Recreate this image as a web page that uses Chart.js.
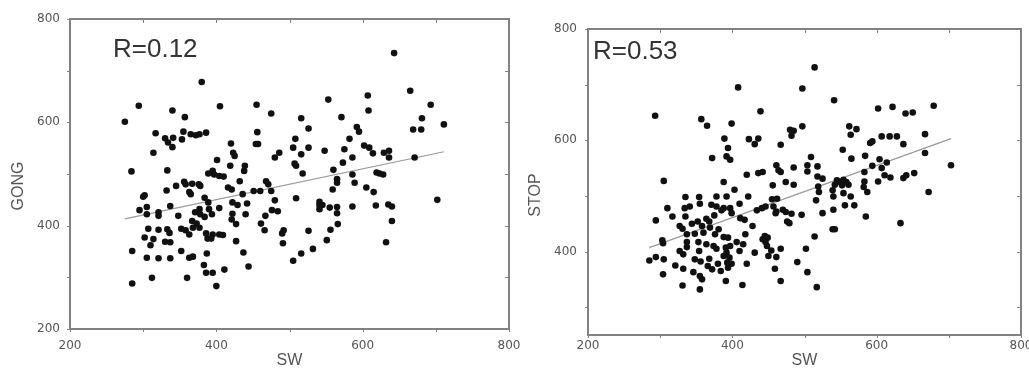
<!DOCTYPE html>
<html><head><meta charset="utf-8">
<script src="https://cdn.jsdelivr.net/npm/chart.js@4.4.1/dist/chart.umd.min.js"></script>
<style>
html,body{margin:0;padding:0;background:#fff;width:1029px;height:369px;overflow:hidden}
.wrap{position:absolute;top:0;height:369px}
canvas{display:block}
</style></head><body>
<div class="wrap" style="left:0;width:522px"><canvas id="c1" width="522" height="369"></canvas></div>
<div class="wrap" style="left:522px;width:507px"><canvas id="c2" width="507" height="369"></canvas></div>
<script>
// ---- data: left panel (SW vs GONG) ----
const gongSW = [643,380,665,607,553,693,294,405,455,340,608,475,357,516,571,681,275,711,526,592,669,680,595,317,355,365,372,377,386,456,330,341,353,508,582,334,420,454,457,340,505,526,602,575,548,609,423,486,516,614,629,636,314,636,671,586,480,425,401,507,573,419,439,509,438,560,333,284,389,395,397,404,410,518,586,619,623,628,432,468,565,565,589,356,345,358,367,376,378,416,421,471,605,332,363,365,451,460,475,559,615,300,302,384,436,480,509,702,422,429,389,541,541,545,337,305,442,565,586,618,635,640,541,555,377,390,404,295,321,371,476,484,565,305,321,348,378,384,394,422,440,467,367,421,640,427,461,373,566,307,321,333,352,358,368,377,466,492,526,556,336,363,386,395,404,409,490,302,314,388,393,330,337,427,632,491,551,310,285,352,437,387,532,516,305,321,337,363,368,444,383,505,411,386,395,312,360,285,400];
const gongVal = [734,678,661,652,644,634,632,631,634,623,623,617,610,608,610,608,601,596,588,591,586,586,582,579,582,577,575,577,580,581,569,570,567,568,568,561,559,558,558,552,551,551,555,548,545,551,541,541,538,540,541,545,541,532,532,532,532,535,527,520,522,516,516,516,506,508,507,505,501,506,499,496,495,501,499,503,501,499,486,486,490,483,483,485,477,480,481,480,477,474,470,480,474,468,465,461,467,467,467,470,465,456,459,454,461,449,453,450,445,440,445,446,440,440,438,436,443,436,437,439,441,437,432,435,432,432,434,430,426,426,430,428,424,422,419,419,422,417,422,423,422,419,409,412,409,403,404,404,403,394,392,393,394,391,396,396,391,391,390,392,386,383,385,383,383,382,385,377,374,375,375,369,368,370,368,366,372,362,351,351,348,346,355,346,338,337,337,338,340,321,324,332,315,309,309,299,299,288,283];
const gongFitSW = [275, 711];
const gongFitVal = [413, 543];

// ---- data: right panel (SW vs STOP) ----
const stopSW = [514,408,497,541,679,602,622,640,650,293,439,357,365,399,497,562,572,564,480,485,482,667,389,423,436,431,607,618,628,591,594,637,467,394,553,372,392,397,565,584,604,667,703,509,614,461,485,504,518,594,607,464,467,436,442,504,420,583,652,641,611,619,637,602,305,388,474,485,518,525,545,549,554,558,583,456,519,542,552,561,582,403,539,672,587,520,554,335,354,378,392,422,455,462,516,540,564,341,334,355,371,378,388,397,410,441,556,569,310,385,446,457,540,434,461,470,474,482,585,525,294,317,335,364,368,352,375,399,411,417,460,476,479,496,633,327,331,344,358,369,381,428,539,542,337,348,360,376,388,394,418,445,449,514,303,304,337,353,364,374,406,415,442,446,337,378,391,397,448,454,467,502,327,354,410,431,332,392,388,396,450,461,294,285,305,348,356,368,380,393,399,420,490,321,332,366,372,394,384,459,346,304,355,358,504,391,467,331,414,355,517];
const stopVal = [731,695,693,672,662,657,660,648,650,644,652,638,626,630,625,625,620,610,619,617,608,611,603,602,603,593,607,607,607,595,598,593,592,586,583,568,571,565,567,572,566,577,555,570,560,555,551,555,553,554,550,546,543,541,543,544,538,543,541,537,537,533,532,526,527,525,525,520,535,531,528,525,529,525,526,519,517,520,519,520,516,511,510,507,507,507,505,498,498,499,499,499,494,495,492,499,499,481,478,486,484,481,478,478,486,478,483,483,478,474,481,481,475,474,472,475,471,468,463,469,456,463,463,459,454,454,465,469,460,457,469,454,451,466,451,446,441,450,446,443,440,446,440,440,431,432,434,431,426,425,431,428,425,427,420,415,417,417,413,410,417,413,422,417,408,405,407,410,410,402,405,405,401,401,401,398,395,398,392,389,392,390,390,384,386,386,382,387,378,380,378,378,381,375,369,374,368,371,365,369,363,359,356,350,363,347,347,339,340,332,336];
const stopFitSW = [285, 703];
const stopFitVal = [407, 603];

const tickValues = [200, 300, 400, 500, 600, 700, 800];
const labelTicks = [200, 400, 600, 800];

Chart.defaults.font.family = '"DejaVu Sans", sans-serif';

const framePlugin = {
  id: 'frame',
  afterDraw(chart, args, opts) {
    const {ctx, chartArea: a, scales: {x, y}} = chart;
    ctx.save();
    ctx.strokeStyle = '#828282';
    ctx.lineWidth = 2;
    ctx.strokeRect(a.left, a.top, a.right - a.left, a.bottom - a.top);
    ctx.lineWidth = 1;
    ctx.beginPath();
    x.ticks.forEach(t => {
      const px = Math.round(x.getPixelForValue(t.value)) + 0.5;
      ctx.moveTo(px, a.top); ctx.lineTo(px, a.top + 4);
      ctx.moveTo(px, a.bottom); ctx.lineTo(px, a.bottom + 3);
    });
    y.ticks.forEach(t => {
      const py = Math.round(y.getPixelForValue(t.value)) + 0.5;
      ctx.moveTo(a.right, py); ctx.lineTo(a.right - 4, py);
      ctx.moveTo(a.left, py); ctx.lineTo(a.left - 3, py);
    });
    ctx.stroke();
    // correlation label
    ctx.fillStyle = '#333';
    ctx.font = '26px "Liberation Sans", Arial, sans-serif';
    ctx.textBaseline = 'top';
    ctx.textAlign = 'left';
    ctx.fillText(opts.text, opts.tx, opts.ty);
    // y axis title (rotated)
    ctx.fillStyle = '#555';
    ctx.font = '16px "Liberation Sans", Arial, sans-serif';
    ctx.translate(opts.yTitleX, opts.yTitleY);
    ctx.rotate(-Math.PI / 2);
    ctx.textAlign = 'center';
    ctx.textBaseline = 'middle';
    ctx.fillText(opts.yTitle, 0, 0);
    ctx.restore();
  }
};

function makeChart(id, W, H, box, xs, ys, fx, fy, yMin, yTitle, rText, tx, ty, xPad, yPad, ytx, yty) {
  const pts = xs.map((v, i) => ({x: v, y: ys[i]}));
  const fit = fx.map((v, i) => ({x: v, y: fy[i]}));
  const yTicks = tickValues.filter(v => v >= yMin);
  return new Chart(document.getElementById(id), {
    type: 'scatter',
    data: {
      datasets: [
        {type: 'line', data: fit, borderColor: '#9a9a9a', borderWidth: 1.2, pointRadius: 0, fill: false, order: 1},
        {data: pts, backgroundColor: '#111', borderWidth: 0, pointRadius: 3.3, order: 0}
      ]
    },
    options: {
      responsive: false,
      animation: false,
      events: [],
      layout: {padding: {left: 0, top: box.top, right: W - box.right, bottom: 0}},
      plugins: {
        legend: {display: false},
        tooltip: {enabled: false},
        frame: {text: rText, tx: tx, ty: ty, yTitle: yTitle, yTitleX: ytx, yTitleY: yty}
      },
      scales: {
        x: {
          type: 'linear', min: 200, max: 800,
          afterBuildTicks: s => { s.ticks = tickValues.map(v => ({value: v})); },
          afterFit: s => { s.height = H - box.bottom; s.paddingLeft = 0; s.paddingRight = 0; },
          grid: {display: false, drawTicks: false, tickLength: 0},
          border: {display: false},
          ticks: {
            color: '#555', font: {size: 12}, padding: xPad, maxRotation: 0, autoSkip: false,
            callback: v => (labelTicks.includes(v) ? String(v) : '')
          },
          title: {display: true, text: 'SW', color: '#555', font: {family: '"Liberation Sans", Arial, sans-serif', size: 16, lineHeight: 1}, padding: {top: 0, bottom: 0}}
        },
        y: {
          type: 'linear', min: yMin, max: 800,
          afterBuildTicks: s => { s.ticks = yTicks.map(v => ({value: v})); },
          afterFit: s => { s.width = box.left; s.paddingTop = 0; s.paddingBottom = 0; },
          grid: {display: false, drawTicks: false, tickLength: 0},
          border: {display: false},
          ticks: {
            color: '#555', font: {size: 12}, padding: yPad, autoSkip: false,
            callback: v => (labelTicks.includes(v) ? String(v) : '')
          },
          title: {display: false}
        }
      }
    },
    plugins: [framePlugin]
  });
}

makeChart('c1', 522, 369, {left: 70, right: 509, top: 19, bottom: 329},
  gongSW, gongVal, gongFitSW, gongFitVal, 200, 'GONG', 'R=0.12', 113, 37, 10, 10, 19, 186);
makeChart('c2', 507, 369, {left: 66, right: 499, top: 29, bottom: 335},
  stopSW, stopVal, stopFitSW, stopFitVal, 250, 'STOP', 'R=0.53', 71, 39, 4, 11, 14, 195);
</script>
</body></html>
